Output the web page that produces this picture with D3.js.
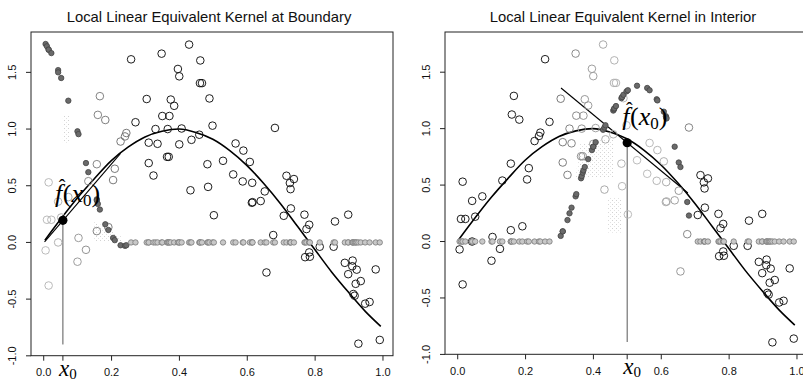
<!DOCTYPE html>
<html><head><meta charset="utf-8">
<script src="https://cdn.jsdelivr.net/npm/d3@7"></script>
<style>body{margin:0;background:#fff}</style>
</head><body><svg id="c" width="803" height="381"></svg>
<script>
// ---- data ----
const xData = [0.007,0.011,0.016,0.016,0.024,0.044,0.044,0.053,0.074,0.101,
  0.104,0.126,0.133,0.158,0.158,0.161,0.167,0.183,0.192,0.206,
  0.211,0.228,0.241,0.245,0.259,0.272,0.305,0.311,0.311,0.325,
  0.331,0.337,0.349,0.351,0.365,0.367,0.370,0.372,0.376,0.386,
  0.397,0.401,0.401,0.408,0.430,0.434,0.437,0.460,0.462,0.463,
  0.468,0.484,0.486,0.490,0.499,0.503,0.530,0.560,0.567,0.588,
  0.590,0.609,0.615,0.616,0.617,0.641,0.653,0.658,0.678,0.683,
  0.709,0.717,0.727,0.729,0.730,0.739,0.770,0.772,0.776,0.784,
  0.784,0.786,0.815,0.856,0.860,0.889,0.899,0.899,0.911,0.912,
  0.914,0.918,0.921,0.924,0.929,0.936,0.949,0.962,0.980,0.992];
const yData = [-0.07,0.20,-0.38,0.53,0.20,0.36,0.00,0.22,0.40,-0.17,
  0.04,-0.065,0.54,0.10,0.69,1.125,1.29,1.08,0.135,0.55,
  0.65,0.89,0.935,0.965,1.615,1.06,1.265,0.88,0.70,0.59,
  1.00,0.87,1.665,1.115,0.755,1.00,0.755,1.115,1.26,1.205,
  1.53,1.465,0.865,1.005,1.745,0.46,0.905,0.95,1.405,1.605,
  1.405,0.69,0.49,1.27,1.03,0.24,0.72,0.60,0.873,0.538,
  0.81,0.71,0.35,0.526,0.355,0.365,0.45,-0.265,0.065,1.01,
  0.235,0.588,0.524,0.47,0.30,0.559,0.245,-0.13,0.118,0.156,
  -0.088,-0.126,-0.038,-0.038,0.185,-0.18,0.245,-0.28,-0.21,-0.16,
  -0.455,-0.47,-0.365,-0.24,-0.893,-0.341,-0.54,-0.525,-0.238,-0.86];
// equivalent kernel weights (rescaled), one per data point
const kernelBoundary = [1.75,1.73,1.70,1.70,1.67,1.52,1.50,1.45,1.25,0.98,
  0.955,0.70,0.62,0.38,0.37,0.34,0.29,0.16,0.11,0.04,
  0.02,-0.025,-0.03,-0.025,0,0,0,0,0,0,
  0,0,0,0,0,0,0,0,0,0, 0,0,0,0,0,0,0,0,0,0,
  0,0,0,0,0,0,0,0,0,0, 0,0,0,0,0,0,0,0,0,0,
  0,0,0,0,0,0,0,0,0,0, 0,0,0,0,0,0,0,0,0,0, 0,0,0,0,0,0,0,0,0,0];
const kernelInterior = [0,0,0,0,0,0,0,0,0,0, 0,0,0,0,0,0,0,0,0,0,
  0,0,0,0,0,0,0.05,0.09,0.09,0.19,
  0.25,0.30,0.40,0.42,0.56,0.58,0.61,0.63,0.66,0.73,
  0.81,0.84,0.84,0.88,0.99,1.01,1.03,1.16,1.17,1.18,
  1.20,1.27,1.28,1.30,1.33,1.34,1.38,1.36,1.34,1.26,
  1.25,1.15,1.11,1.10,1.09,0.84,0.70,0.66,0.35,0.23,
  0,0,0,0,0,0,0,0,0,0, 0,0,0,0,0,0,0,0,0,0, 0,0,0,0,0,0,0,0,0,0];
// smooth curve
const curveX = [0.005,0.05,0.10,0.15,0.20,0.25,0.30,0.35,0.40,0.45,0.50,0.55,0.60,0.65,0.70,0.75,0.80,0.85,0.90,0.95,0.995];
const curveY = [0.02,0.20,0.39,0.56,0.72,0.84,0.93,0.98,1.00,0.97,0.91,0.81,0.68,0.52,0.34,0.14,-0.06,-0.26,-0.44,-0.61,-0.74];
// local linear fits at x0
const fitBoundaryX = [0.004,0.228], fitBoundaryY = [0.005,0.785];
const fitInteriorX = [0.306,0.680], fitInteriorY = [1.36,0.43];
const x0Values = [0.058, 0.501];
const fhatValues = [0.195, 0.875];
const vlineBottom = [-0.90, -0.89];
// faint Nadaraya-Watson shading (halftone remnants)
const shadeBoundary = [[[0.058,0.88],[0.078,0.88],[0.078,1.12],[0.058,1.12]],
                       [[0.15,0.01],[0.23,0.01],[0.23,0.05],[0.15,0.19]]];
const shadeInterior = [[[0.35,0.57],[0.46,0.57],[0.46,0.92],[0.36,0.86]],
                       [[0.445,0.08],[0.485,0.08],[0.485,0.39],[0.445,0.39]]];
const titles = ["Local Linear Equivalent Kernel at Boundary","Local Linear Equivalent Kernel in Interior"];
const xTicks = [0,0.2,0.4,0.6,0.8,1.0];
const xTickLabels = ["0.0","0.2","0.4","0.6","0.8","1.0"];
const yTicks = [-1,-0.5,0,0.5,1,1.5];
const yTickLabels = ["-1.0","-0.5","0.0","0.5","1.0","1.5"];

// ---- layout ----
const layout = [
  {left:31, width:362, top:32, bottom:355.7, titleX:209, labelDx:-8, weights:kernelBoundary,
   fitX:fitBoundaryX, fitY:fitBoundaryY, shade:shadeBoundary},
  {left:445, width:362, top:32, bottom:354.3, titleX:623, labelDx:-5, weights:kernelInterior,
   fitX:fitInteriorX, fitY:fitInteriorY, shade:shadeInterior}
];
const svg = d3.select("#c");
const defs = svg.append("defs");
const pat = defs.append("pattern").attr("id","speck").attr("width",4).attr("height",4)
  .attr("patternUnits","userSpaceOnUse");
pat.append("rect").attr("x",0).attr("y",0).attr("width",1).attr("height",1).attr("fill","#d2d2d2");
pat.append("rect").attr("x",2).attr("y",2).attr("width",1).attr("height",1).attr("fill","#e2e2e2");

const sans = "'Liberation Sans', Arial, Helvetica, sans-serif";
const serif = "'Liberation Serif', 'DejaVu Serif', serif";

layout.forEach((L, pi) => {
  const x = d3.scaleLinear().domain([-0.036, 1.031]).range([L.left, L.left + L.width]);
  const y = d3.scaleLinear().domain([-0.999, 1.856]).range([L.bottom, L.top]);
  const g = svg.append("g");
  const clipId = "clip" + pi;
  defs.append("clipPath").attr("id", clipId).append("rect")
    .attr("x", L.left).attr("y", L.top).attr("width", L.width).attr("height", L.bottom - L.top);
  const pg = g.append("g").attr("clip-path", `url(#${clipId})`);

  // title
  g.append("text").attr("x", L.titleX).attr("y", 21.5).attr("text-anchor","middle")
    .attr("font-family", sans).attr("font-size", 14.8).attr("fill","#111").text(titles[pi]);

  // shading
  const line = d3.line().x(d => x(d[0])).y(d => y(d[1]));
  L.shade.forEach(poly => pg.append("path").attr("d", line(poly) + "Z").attr("fill","url(#speck)"));

  // curve
  const curvePts = curveX.map((v,i) => [v, curveY[i]]);
  pg.append("path").attr("d", d3.line().x(d=>x(d[0])).y(d=>y(d[1])).curve(d3.curveMonotoneX)(curvePts))
    .attr("fill","none").attr("stroke","#000").attr("stroke-width",1.6);
  // fit line
  pg.append("path").attr("d", line(L.fitX.map((v,i)=>[v, L.fitY[i]])))
    .attr("fill","none").attr("stroke","#000").attr("stroke-width",1.1);
  // vertical line at x0
  pg.append("line").attr("x1", x(x0Values[pi])).attr("x2", x(x0Values[pi]))
    .attr("y1", y(fhatValues[pi])).attr("y2", y(vlineBottom[pi]))
    .attr("stroke","#444").attr("stroke-width",0.9);

  // data circles
  const maxW = d3.max(L.weights, w => Math.abs(w));
  const grayScale = d3.interpolateRgb("#707070", "#b8b8b8");
  pg.append("g").selectAll("circle").data(xData.map((v,i)=>({x:v, y:yData[i], w:L.weights[i]})))
    .join("circle").attr("cx", d => x(d.x)).attr("cy", d => y(d.y)).attr("r", 3.8)
    .attr("fill","none").attr("stroke-width",0.95)
    .attr("stroke", d => d.w === 0 ? "#111" : grayScale(Math.abs(d.w)/maxW));

  // equivalent kernel points
  pg.append("g").selectAll("circle").data(xData.map((v,i)=>({x:v, w:L.weights[i]})))
    .join("circle").attr("cx", d => x(d.x)).attr("cy", d => y(d.w)).attr("r", 2.7)
    .attr("fill", d => d.w === 0 ? "#c8c8c8" : "#6a6a6a")
    .attr("stroke", d => d.w === 0 ? "#7a7a7a" : "#444").attr("stroke-width",0.8);

  // fhat point
  pg.append("circle").attr("cx", x(x0Values[pi])).attr("cy", y(fhatValues[pi])).attr("r", 4.6).attr("fill","#000");

  // box
  g.append("rect").attr("x", L.left).attr("y", L.top).attr("width", L.width).attr("height", L.bottom - L.top)
    .attr("fill","none").attr("stroke","#222").attr("stroke-width",1);

  // x axis
  const ax = g.append("g").attr("transform", `translate(0,${L.bottom})`)
    .call(d3.axisBottom(x).tickValues(xTicks).tickFormat((d,i)=>xTickLabels[i]).tickSize(5).tickPadding(8));
  ax.select(".domain").remove();
  ax.selectAll("line").attr("stroke","#222");
  ax.selectAll("text").attr("font-family", sans).attr("font-size", 11).attr("fill","#111");
  // x0 tick + label
  const ax0 = x(x0Values[pi]);
  g.append("line").attr("x1", ax0).attr("x2", ax0).attr("y1", L.bottom).attr("y2", L.bottom + 5).attr("stroke","#222");
  const xl = g.append("text").attr("x", ax0 + 5).attr("y", L.bottom + 20).attr("text-anchor","middle")
    .attr("font-family", serif).attr("font-size", 23).attr("fill","#000");
  xl.append("tspan").attr("font-style","italic").text("x");
  xl.append("tspan").attr("font-size", 15).attr("dy", 3).text("0");

  // y axis
  yTicks.forEach((t,i) => {
    g.append("line").attr("x1", L.left - 5).attr("x2", L.left).attr("y1", y(t)).attr("y2", y(t)).attr("stroke","#222");
    const tx = L.left - 15;
    g.append("text").attr("x", tx).attr("y", y(t)).attr("text-anchor","middle")
      .attr("transform", `rotate(-90,${tx},${y(t)})`)
      .attr("font-family", sans).attr("font-size", 11).attr("fill","#111").text(yTickLabels[i]);
  });

  // fhat label (hat kept in the same text element)
  const lx = x(x0Values[pi]) + L.labelDx, ly = y(fhatValues[pi]) - 18;
  const fl = g.append("text").attr("x", lx).attr("y", ly).attr("font-family", serif).attr("font-size", 26).attr("fill","#000");
  fl.append("tspan").attr("font-style","italic").text("f");
  fl.append("tspan").attr("font-size", 20).attr("dx", -3.5).attr("dy", -8).text("\u02C6");
  fl.append("tspan").attr("dx", -2.5).attr("dy", 8).text("(");
  fl.append("tspan").attr("font-style","italic").text("x");
  fl.append("tspan").attr("font-size",17).attr("dy",4).text("0");
  fl.append("tspan").attr("dy",-4).text(")");
});
</script></body></html>
